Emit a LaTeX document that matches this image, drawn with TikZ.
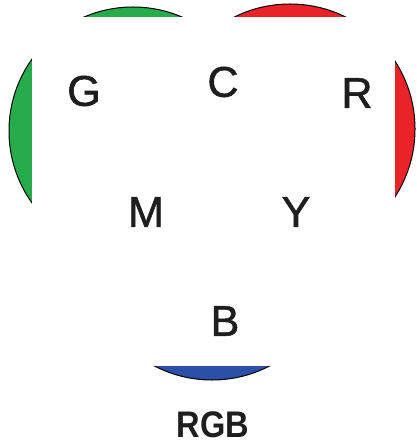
\documentclass[tikz,border=0pt]{standalone}
\usepackage{fontspec}
\setmainfont{Liberation Sans}
\newfontfamily\letterfont[FakeBold=1.3]{Liberation Sans}
\definecolor{cgreen}{RGB}{38,172,74}
\definecolor{cred}{RGB}{234,35,40}
\definecolor{cblue}{RGB}{44,80,168}
\definecolor{ink}{RGB}{30,30,30}
\begin{document}
\begin{tikzpicture}[x=1pt,y=-1pt,
  disc/.style={draw=black,line width=1pt},
  letter/.style={text=ink,font=\letterfont\fontsize{43}{43}\selectfont,inner sep=0pt,anchor=center},
  caption/.style={text=ink,font=\fontsize{37}{37}\selectfont\bfseries,inner sep=0pt,anchor=center}]
\useasboundingbox[fill=white] (0,0) rectangle (416,443);
\fill[cgreen,disc] (133,131) circle[radius=124];
\fill[cred,disc] (290,129) circle[radius=125];
\fill[cblue,disc] (212,255) circle[radius=125];
\fill[white] (32,17) rectangle (395,366);
\node[letter] (G) at (84,91) {G};
\node[letter] (C) at (223,82) {C};
\node[letter] (R) at (357,93) {R};
\node[letter] (M) at (146,212) {M};
\node[letter] (Y) at (296,212) {Y};
\node[letter] (B) at (225,321) {B};
\node[caption] (rgb) at (213,425) {\scalebox{0.88}[1]{RGB}};
\end{tikzpicture}
\end{document}
